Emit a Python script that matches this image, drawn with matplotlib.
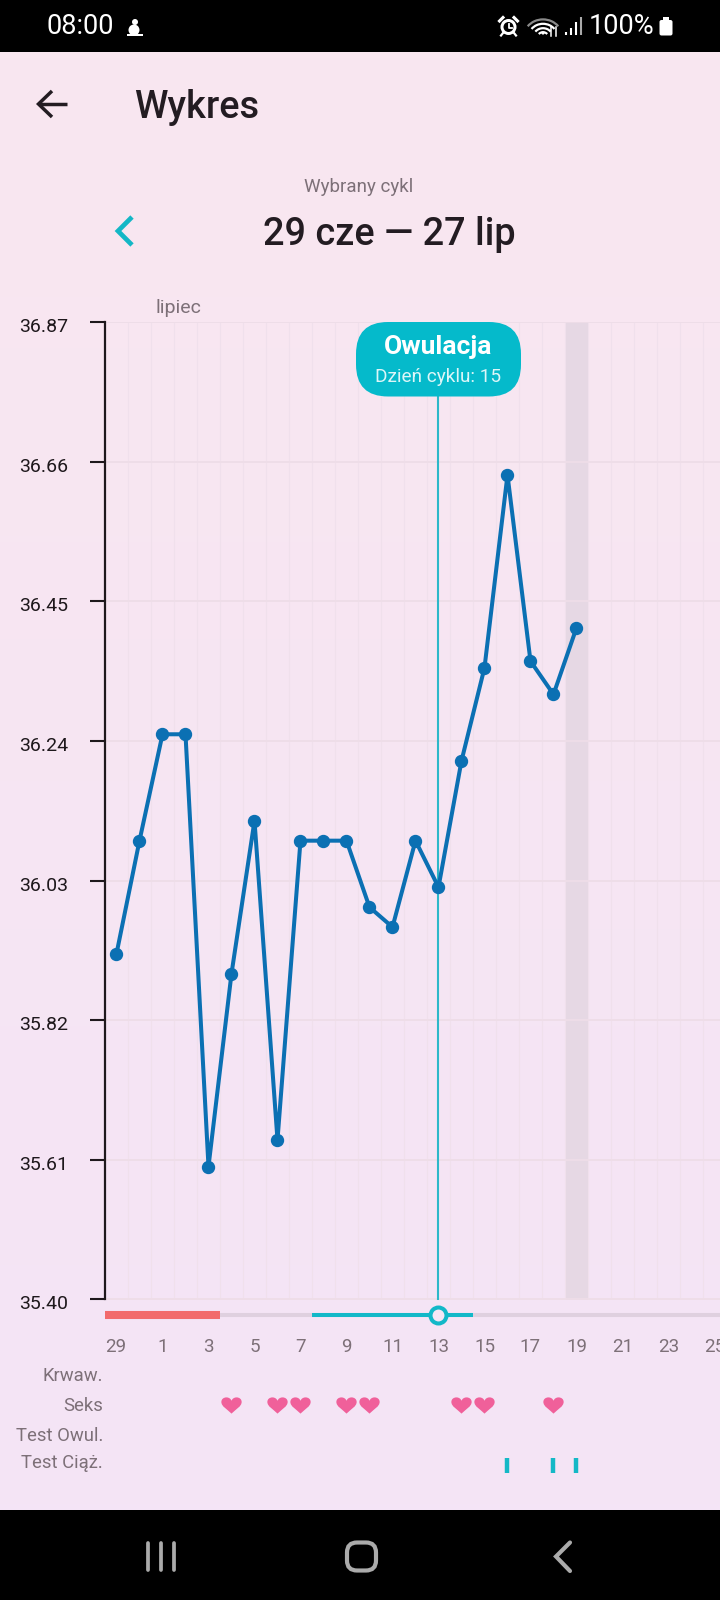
import matplotlib
matplotlib.use('Agg')
import matplotlib.pyplot as plt
import numpy as np
from matplotlib.patches import FancyBboxPatch, Rectangle, Circle, Arc
from matplotlib.path import Path
from matplotlib.transforms import ScaledTranslation

plt.rcParams['font.family'] = ['Roboto', 'DejaVu Sans']

# chart data
day_labels = ['29', '30', '1', '2', '3', '4', '5', '6', '7', '8', '9', '10', '11', '12', '13', '14',
              '15', '16', '17', '18', '19', '20', '21', '22', '23', '24', '25']
temps = [35.92, 36.09, 36.25, 36.25, 35.60, 35.89, 36.12, 35.64, 36.09, 36.09, 36.09,
         35.99, 35.96, 36.09, 36.02, 36.21, 36.35, 36.64, 36.36, 36.31, 36.41]
y_ticks = [35.40, 35.61, 35.82, 36.03, 36.24, 36.45, 36.66, 36.87]
row_labels = ['Krwaw.', 'Seks', 'Test Owul.', 'Test Ciąż.']
sex_days = [5, 7, 8, 10, 11, 15, 16, 19]
preg_test_days = [17, 19, 20]
period_span = [-0.5, 4.5]
fertile_span = [8.5, 15.5]
ovulation_day = 14
today = 20

W, H = 720, 1600
BLUE = '#0B70B3'
TEAL = '#12B8C8'
DARK = '#231C22'
GREY = '#7D7078'
X0, X1 = -0.5, 26.24


def box(left, top, right, bottom):
    return [left / W, 1 - bottom / H, (right - left) / W, (bottom - top) / H]


fig = plt.figure(figsize=(7.2, 16), dpi=100)

# background gradient
bg = fig.add_axes([0, 0, 1, 1], zorder=0)
c_top = np.array([249, 231, 240]) / 255
c_bot = np.array([244, 228, 246]) / 255
t = np.linspace(0, 1, 256)[:, None, None]
bg.imshow(c_top + (c_bot - c_top) * t, aspect='auto', extent=[0, W, 1510, 52])
bg.set_xlim(0, W)
bg.set_ylim(H, 0)
bg.axis('off')

# main chart
ax = fig.add_axes(box(105, 322, W, 1299.5), zorder=1)
ax.patch.set_alpha(0)
ax.set_xticks(np.arange(0.5, 26, 1))
ax.set_xticklabels([])
ax.set_yticks(y_ticks)
ax.set_yticklabels(['%.2f' % v for v in y_ticks])
ax.set_xlim(X0, X1)
ax.set_ylim(y_ticks[0], y_ticks[-1])
ax.tick_params(axis='x', length=0)
ax.tick_params(axis='y', length=10.5, width=1.5, color='#1E181C', pad=16, labelsize=14, labelcolor='#1E181C')
for lab in ax.get_yticklabels():
    lab.set_transform(lab.get_transform() + ScaledTranslation(0, -3 / 100, fig.dpi_scale_trans))
ax.grid(axis='x', color='#F0E0EC', lw=0.8)
ax.grid(axis='y', color='#EEDDE8', lw=1.4)
ax.set_axisbelow(True)
for s in ['top', 'right', 'bottom']:
    ax.spines[s].set_visible(False)
ax.spines['left'].set_color('#1E181C')
ax.spines['left'].set_linewidth(1.6)
ax.axvspan(today - 0.5, today + 0.5, color='#E6D8E4', lw=0, zorder=0.5)
ax.axvline(ovulation_day, color='#2DB8C9', lw=1.5, zorder=1.5)
ax.plot(range(len(temps)), temps, color=BLUE, lw=2.9, marker='o', ms=8.6, zorder=3)

# strip, day labels and symptom rows share the x scale of the chart
low = fig.add_axes(box(105, 1300, W, 1510), zorder=2)
low.patch.set_alpha(0)
low.set_xlim(X0, X1)
low.set_ylim(1510, 1300)
low.axis('off')

low.plot([X0, X1], [1314.7, 1314.7], color='#DFD0DF', lw=2.9, solid_capstyle='butt')
low.plot(period_span, [1314.7, 1314.7], color='#F26A6C', lw=5.8, solid_capstyle='butt')
low.plot(fertile_span, [1314.7, 1314.7], color=TEAL, lw=2.9, solid_capstyle='butt')
low.plot([ovulation_day], [1314.7], 'o', ms=11.5, mfc='#F5E6F5', mec=TEAL, mew=2.9)

for i in range(0, len(day_labels), 2):
    if i == 0:
        low.text(X0, 1346.7, day_labels[i], ha='left', va='center', fontsize=13.5, color=GREY)
    else:
        low.text(i, 1346.7, day_labels[i], ha='center', va='center', fontsize=13.5, color=GREY, clip_on=False)

heart = Path(
    [(0, -0.8), (-0.45, -0.35), (-1, -0.1), (-1, 0.35), (-1, 0.65), (-0.75, 0.8), (-0.5, 0.8),
     (-0.25, 0.8), (-0.05, 0.65), (0, 0.45), (0.05, 0.65), (0.25, 0.8), (0.5, 0.8), (0.75, 0.8),
     (1, 0.65), (1, 0.35), (1, -0.1), (0.45, -0.35), (0, -0.8), (0, -0.8)],
    [Path.MOVETO] + [Path.CURVE4] * 18 + [Path.CLOSEPOLY])
low.plot(sex_days, [1405] * len(sex_days), ls='none', marker=heart, ms=14.6, color='#F0609A', mew=0)
low.vlines(preg_test_days, 1458, 1473, color='#14B8C6', lw=3.2)

# everything else is drawn in pixel coordinates
ui = fig.add_axes([0, 0, 1, 1], zorder=3)
ui.patch.set_alpha(0)
ui.set_xlim(0, W)
ui.set_ylim(H, 0)
ui.axis('off')

for (lab, yy) in zip(row_labels, [1376, 1406, 1436, 1463.5]):
    ui.text(103, yy, lab, ha='right', va='center', fontsize=13.3, color=GREY)

# status bar and nav bar
ui.add_patch(Rectangle((0, 0), W, 52, color='black', lw=0))
ui.add_patch(Rectangle((0, 1510), W, 90, color='black', lw=0))
ui.text(47, 26.5, '08:00', color='white', fontsize=19.5, va='center', ha='left')
ui.text(654, 26.5, '100%', color='white', fontsize=19.5, va='center', ha='right')
ui.add_patch(Circle((135, 22), 3, color='white', lw=0))
ui.add_patch(Circle((134, 30), 5.5, color='white', lw=0))
ui.add_patch(Rectangle((127, 34), 16, 1.6, color='white', lw=0))
# alarm
ui.add_patch(Circle((508.5, 27), 8, color='white', lw=0))
ui.add_patch(Circle((508.5, 27), 5, color='black', lw=0))
ui.plot([508.5, 508.5, 512], [23.5, 27.5, 27.5], color='white', lw=1.3)
ui.plot([499.5, 503], [21, 17.5], color='white', lw=2.2)
ui.plot([517.5, 514], [21, 17.5], color='white', lw=2.2)
ui.plot([503, 501], [33, 35.5], color='white', lw=1.6)
ui.plot([514, 516], [33, 35.5], color='white', lw=1.6)
# wifi
for r, c in zip([22, 16.5, 11, 6], ['#8a8a8a', 'white', 'white', 'white']):
    ui.add_patch(Arc((543, 37), r * 1.75, r * 1.6, theta1=215, theta2=325, color=c, lw=1.6))
ui.add_patch(Circle((543, 33), 1.6, color='white', lw=0))
ui.plot([551, 551], [27, 36], color='white', lw=1.1)
ui.plot([555.5, 555.5], [27, 36], color='white', lw=1.1)
# signal
for bx, top, c in zip([566, 571, 576, 581], [32, 28, 22, 17], ['white', 'white', 'white', '#aaaaaa']):
    ui.plot([bx, bx], [top, 35], color=c, lw=1.5, solid_capstyle='butt')
# battery
ui.add_patch(FancyBboxPatch((659.5, 20), 13, 15.5, boxstyle='round,pad=0,rounding_size=2', color='white', lw=0))
ui.add_patch(Rectangle((663, 17), 6, 4, color='white', lw=0))

for bx in [147.5, 160.5, 173.5]:
    ui.plot([bx, bx], [1543, 1570], color='#ABABAB', lw=2.7, solid_capstyle='round')
ui.add_patch(FancyBboxPatch((347, 1542.5), 29, 28, boxstyle='round,pad=0,rounding_size=10',
                            fc='none', ec='#ABABAB', lw=3))
ui.plot([570, 556, 570], [1542.5, 1556.5, 1571], color='#ABABAB', lw=3, solid_capstyle='round',
        solid_joinstyle='miter')

# app header
ui.plot([66.5, 39.5], [104, 104], color=DARK, lw=2.5, solid_capstyle='butt')
ui.plot([52, 38.5, 52], [91, 104, 117], color=DARK, lw=2.5, solid_joinstyle='miter', solid_capstyle='butt')
ui.text(134.5, 118, 'Wykres', color=DARK, fontsize=27.4, fontweight='medium', ha='left', va='baseline')
ui.text(359, 187, 'Wybrany cykl', color=GREY, fontsize=13.5, ha='center', va='center')
ui.plot([132, 118, 132], [217, 231, 245], color='#14B7C6', lw=3.4, solid_joinstyle='miter', solid_capstyle='butt')
ui.text(389.5, 245, '29 cze — 27 lip', color=DARK, fontsize=27.3, fontweight='medium', ha='center', va='baseline')
ui.text(178, 308, 'lipiec', color=GREY, fontsize=14, ha='center', va='center')

# ovulation callout
ui.add_patch(FancyBboxPatch((356, 322), 165, 74.5, boxstyle='round,pad=0,rounding_size=32',
                            fc='#05BACB', ec='none', zorder=4))
ui.text(438.5, 347, 'Owulacja', color='white', fontsize=19, fontweight='bold', ha='center', va='center', zorder=5)
ui.text(438.5, 377.5, 'Dzień cyklu: 15', color='#DDF6F8', fontsize=13.7, ha='center', va='center', zorder=5)

fig.savefig('out.png', dpi=100)
